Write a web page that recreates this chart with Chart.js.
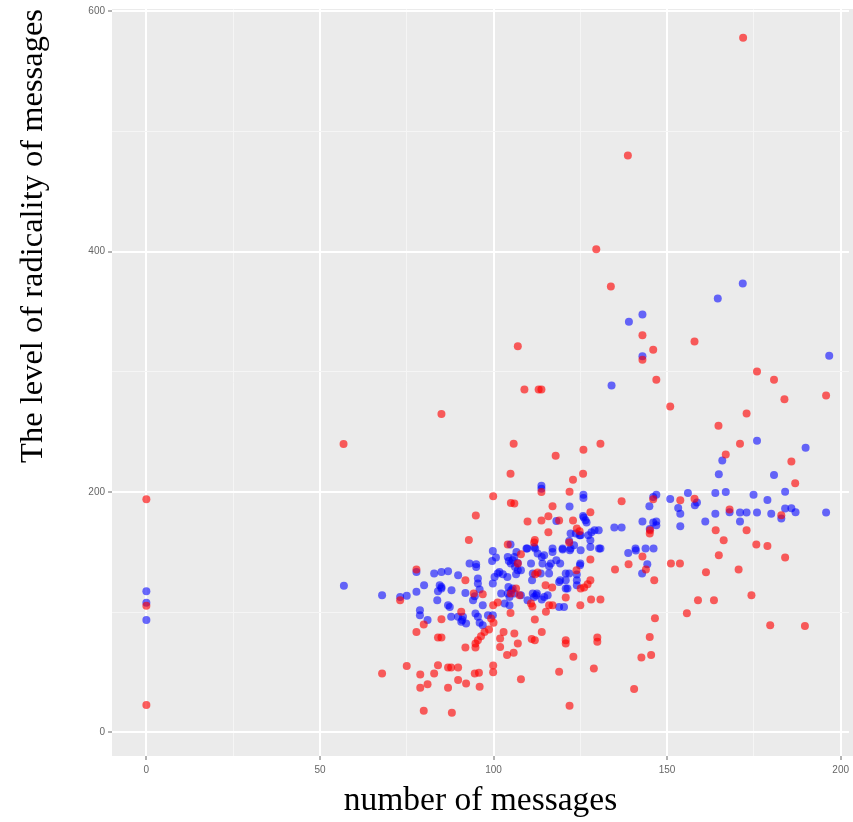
<!DOCTYPE html>
<html>
<head>
<meta charset="utf-8">
<script src="https://cdn.jsdelivr.net/npm/chart.js@4.4.1/dist/chart.umd.min.js"></script>
<style>
  body { margin: 0; background: #fff; overflow: hidden; }
  #chart { display: block; }
</style>
</head>
<body>
<canvas id="chart" width="853" height="822"></canvas>
<script>
// number of messages (x) / level of radicality (y)
const redX = [0,0,0,56.8,67.9,73.1,75,77.8,77.8,78.9,78.9,79.9,79.9,81,82.9,84,85,84,85,85,86.9,87.8,86.9,88,89.8,89.8,90.7,91.9,91.9,92.1,92.9,94.3,96.9,94.8,94.8,94.9,95.5,96.4,97.4,98.7,100,99.3,94.6,95.8,96,99.9,99.9,99.9,99.9,101.2,101.9,102.9,101.9,103.9,105.8,104.1,104.9,104.9,105,105,106,105.8,106,107,106.5,107.5,107,107,107.9,107.9,108.9,109.8,110.8,111.2,111,111.9,111.9,111.9,111.7,112,112.7,113,113.8,113.8,113.8,113.9,115,115.1,115.8,115.8,116,117,116.9,117,117.9,118.9,118.9,120.8,120.8,120.8,121.8,121.9,121.9,122.9,122.9,123,123.9,124,124.8,125,125.1,125.8,125.9,126.1,127.1,127.9,127.9,127.9,128.1,128.9,129.6,129.9,129.9,130.8,130.8,133.8,135,136.9,138.7,138.9,140.5,142.6,142.9,142.9,142.9,143.9,145,145.1,145,145.4,146,146,146.3,146.5,146.9,150.9,151.1,153.7,153.8,155.7,157.9,157.9,158.9,161.2,163.5,164,164.8,164.9,166.3,166.9,168,170.6,171,171.9,172.9,172.9,174.3,175.7,175.9,178.9,179.7,180.8,182.9,183.8,184,185.8,186.9,189.7,195.8];
const redY = [193.9,105.3,22.7,240,49,110,55.1,135.5,83.6,48.2,37.1,89.8,18,40.1,49,79,79,55.9,94.2,265,54,54,37.1,16.3,54,43.5,100.3,126.6,70.7,40.7,160.1,115.5,115,70.7,74,180.4,76.7,80,83.6,85.6,91.1,94.8,49,49.5,37.9,55.7,50.1,196.4,105.8,108,78.1,83.6,71.1,64.3,66.2,156.3,215.3,99.4,115.5,190.9,190.4,240.2,82.3,74,119.7,114.1,140.5,321.4,148.2,44.1,285.4,175.4,107.2,104.8,77.6,76.7,93.9,160.1,157.9,131.6,133,285.4,285.4,200,176.2,83.6,122.4,100.3,179.8,166.5,105.8,105.8,120.5,188.1,230.2,176.2,50.4,112.2,76.7,74,157.9,200.3,22.1,210.3,176.2,62.8,134.9,169.6,167.3,105.8,119.7,215.3,235.2,120.5,123.3,126.6,183.1,143.8,110.6,53.2,402,79,75.3,240.2,110.6,371,135.5,192.3,480,139.9,36,62.3,146.3,330.5,310,135.5,165.4,168.2,79.4,64.4,318.4,193.9,126.6,95,293.4,271.2,140.6,140.6,193.1,99.2,325.3,194.5,110,133.3,110,168.2,255.2,147.4,159.9,231.3,185.4,135.5,240.2,578,265.4,168.2,114,156.3,300.3,155.1,89.2,293.4,180.6,277.3,145.6,225.3,207.2,88.4,280.4];

const blueX = [0,0,0,56.9,67.9,73.1,75,77.8,77.8,78.8,78.8,80,81,82.9,85,86.9,89.8,84.5,85,84,83.8,86.9,87.8,89.8,91,92.1,91.9,94.1,94.8,95.5,95.5,96,95,93.1,96.9,96,96.9,98.4,99.8,99.8,100.3,101.2,102.2,104.1,105.1,106,103.2,104.6,107.9,99.8,100.7,99.6,101.7,102.7,104,105.5,104.3,104.9,104.1,106,106.6,105.5,104.4,107,106.2,107,106.5,107.9,109.5,112,112.7,114.6,113.9,117,116,116,111.3,113.6,118.1,119.2,120.8,120.8,121.8,124,124.9,124,119.9,122,125.1,123.2,127.9,127.9,130.8,111.1,112.5,111.7,114.6,115.6,118.9,120.3,109.8,104.6,94.6,95,87.9,87.4,85,90.7,91.2,95.5,113.9,111.3,112.3,118.9,121.3,124,120.8,125,119.2,116.5,114.1,110.8,105,109.7,111.7,117,119.9,122.2,130.4,140.9,143.8,146.1,138.8,141,142.8,144.3,113.8,113.8,125.9,125.9,146,146.9,150.9,156,163.9,166.9,174.9,178.9,184,121.9,144.9,153.2,153.8,158,158.6,163.9,168,171,172.9,175.9,180,184,185.8,187,182.9,195.8,171,161,153.8,142.9,146,146.9,146.9,145,134.8,136.9,129.1,130.3,128.2,127.3,126.8,126,124.8,122.2,121.8,118.1,125.8,126.5,123.7,125.1,164.6,171.8,139,142.9,142.9,134,196.7,175.9,189.9,165.9,164.9,180.8];
const blueY = [117.5,107.8,93.4,121.9,114.1,112.7,113.6,133.5,116.9,101.7,97.5,122.4,93.4,132.2,133.5,134.1,130.8,122.4,119.7,117.5,110,105.8,96.1,96.1,93.4,90.6,116,110,98.9,128,123.9,118.9,139.9,140.5,105.8,91.1,89.2,97.5,97.5,123.9,129.3,132.2,115.5,115.5,118.3,115.5,107.2,105.8,114.1,151,145.5,142.6,133.5,131.6,129.3,119.7,121,156.3,146,146,150.1,143.2,142.6,141,137.7,134.9,131.6,134.9,153,153,148.8,147.4,146,150.1,138.2,132.2,132.2,132.2,143.2,126.6,126.6,119.7,132.2,126.6,139.1,131.3,152.1,151.5,151.5,155.7,159.9,154.3,153,126.6,115.5,112.7,112.7,114.1,104.4,104.4,110,112.7,113.3,137.7,118.3,104.4,121,92,96.1,96.1,110.6,115.5,114.1,125.2,119.7,122.4,132.2,140.5,140.5,140.5,140.5,140.5,140.5,153,154.3,153,153,153,153,153,153,153,149.3,151.3,132.2,139.8,205.3,202.8,197.8,195,195.8,197.8,194.2,199.2,199.2,200,197.8,193.4,200.3,187.9,188.1,186.7,182,189,191.2,182,183.1,182.9,182.9,182.9,182,186.2,186.5,183.1,177.9,182.9,175.4,175.4,171.5,175.4,174.6,175.4,172.3,169.2,170.4,170.4,168.2,168.2,166.5,164,174.6,178.7,164,165.4,159.3,175.9,180,176.5,165.4,164,361,373.6,341.8,347.8,313,288.7,313.4,242.7,236.9,226.3,214.7,214.1];

const xTicks = [0, 25, 50, 75, 100, 125, 150, 175, 200];
const yTicks = [0, 100, 200, 300, 400, 500, 600];

const toPoints = (xs, ys) => xs.map((x, i) => ({ x: x, y: ys[i] }));

// grey ggplot style panel behind the points
const panelBg = {
  id: 'panelBg',
  beforeDraw(chart) {
    const a = chart.chartArea;
    const ctx = chart.ctx;
    ctx.save();
    ctx.fillStyle = '#ebebeb';
    ctx.fillRect(a.left, a.top, chart.width - a.left, a.bottom - a.top);
    ctx.restore();
  }
};

function gridFor(step) {
  const isMajor = (c) => c.tick && c.tick.value % step === 0;
  return {
    color: (c) => isMajor(c) ? '#ffffff' : '#f5f5f5',
    lineWidth: (c) => isMajor(c) ? 2 : 1,
    tickColor: (c) => isMajor(c) ? '#666' : 'rgba(0,0,0,0)',
    tickWidth: 1,
    tickLength: 4
  };
}

const ctx = document.getElementById('chart').getContext('2d');
const chart = new Chart(ctx, {
  type: 'scatter',
  data: {
    datasets: [
      {
        label: 'red',
        data: toPoints(redX, redY),
        backgroundColor: 'rgba(255, 0, 0, 0.62)',
        borderWidth: 0,
        pointRadius: 4
      },
      {
        label: 'blue',
        data: toPoints(blueX, blueY),
        backgroundColor: 'rgba(0, 0, 255, 0.58)',
        borderWidth: 0,
        pointRadius: 4
      }
    ]
  },
  options: {
    responsive: false,
    animation: false,
    devicePixelRatio: 1,
    layout: { padding: { top: 8, right: 0, left: 0, bottom: 0 } },
    plugins: {
      legend: { display: false },
      tooltip: { enabled: false }
    },
    scales: {
      x: {
        type: 'linear',
        min: -9.9,
        max: 202.4,
        afterBuildTicks: (s) => { s.ticks = xTicks.map(v => ({ value: v })); },
        // panel runs off the right edge, so no room is kept for the "200" label
        afterFit: (s) => { s.height = 66; s.paddingLeft = 0; s.paddingRight = 0; },
        grid: gridFor(50),
        border: { display: false },
        ticks: {
          padding: 4,
          maxRotation: 0,
          autoSkip: false,
          color: '#666',
          font: { family: 'Liberation Sans', size: 10 },
          callback: (v) => v % 50 === 0 ? String(v) : ''
        },
        title: {
          display: true,
          text: 'number of messages',
          color: '#000',
          font: { family: 'Liberation Serif', size: 33.5 },
          padding: { top: 0, bottom: 1 }
        }
      },
      y: {
        type: 'linear',
        min: -19.7,
        max: 602,
        afterBuildTicks: (s) => { s.ticks = yTicks.map(v => ({ value: v })); },
        afterFit: (s) => { s.width = 112; },
        grid: gridFor(200),
        border: { display: false },
        ticks: {
          padding: 3,
          autoSkip: false,
          color: '#666',
          font: { family: 'Liberation Sans', size: 10 },
          callback: (v) => v % 200 === 0 ? String(v) : ''
        },
        title: {
          display: true,
          text: 'The level of radicality of messages',
          align: 'end',
          color: '#000',
          font: { family: 'Liberation Serif', size: 32.5 },
          padding: { top: 14, bottom: 0 }
        }
      }
    }
  },
  plugins: [panelBg]
});
</script>
</body>
</html>
